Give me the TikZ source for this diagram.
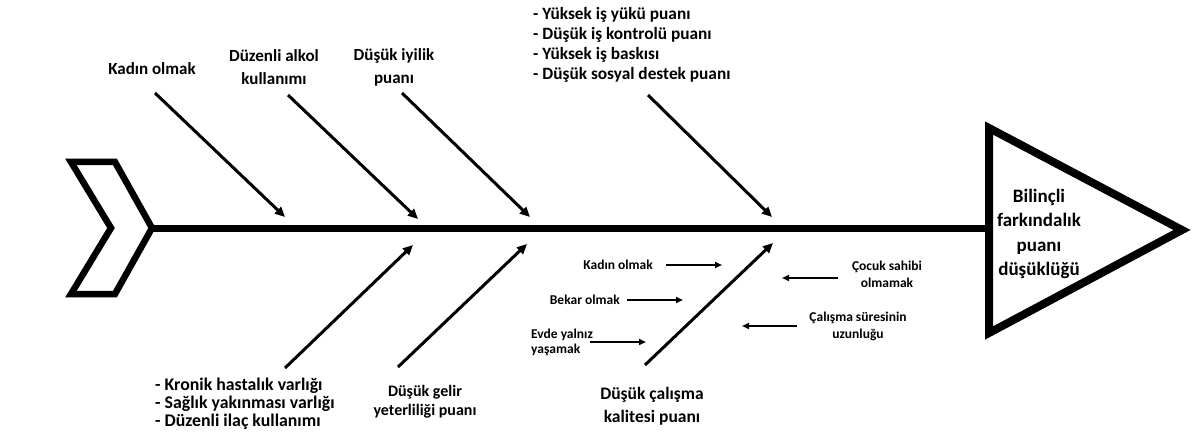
\documentclass[tikz,border=0pt]{standalone}
\usepackage{fontspec}
\setmainfont{Carlito}
\usetikzlibrary{arrows.meta}
\begin{document}
\begin{tikzpicture}[x=1pt,y=-1pt,
  lbl/.style={font=\bfseries\fontsize{17}{23}\selectfont, align=center, inner sep=0pt},
  sml/.style={font=\bfseries\fontsize{13.5}{17}\selectfont, align=center, inner sep=0pt},
  bone/.style={line width=3pt, -{Triangle[length=10pt,width=9pt]}},
  twig/.style={line width=1.8pt, -{Triangle[length=7pt,width=6pt]}},
  frame/.style={line width=7pt, miter limit=10, line join=miter}]
\useasboundingbox (0,0) rectangle (1197,441);

% tail chevron
\draw[frame, line width=6.5pt] (71,162) -- (115,162) -- (152,228) -- (115,294) -- (71,294) -- (111,228) -- cycle;
\coordinate (tail) at (152,228);

% head triangle
\draw[frame, line width=8pt] (989,128) -- (1182,230) -- (989,333) -- cycle;
\coordinate (headw) at (989,228);
\node[font=\bfseries\fontsize{19}{24.3}\selectfont, align=center, inner sep=0pt] (head) at (1039,234) {Bilinçli\\farkındalık\\puanı\\düşüklüğü};

% spine
\draw[line width=7pt] (tail) -- (headw);

% top labels
\node[lbl] (t1) at (152,69) {Kadın olmak};
\node[lbl] (t2) at (274,67) {Düzenli alkol\\kullanımı};
\node[lbl] (t3) at (394,67) {Düşük iyilik\\puanı};
\node[lbl, align=left, anchor=west, font=\bfseries\fontsize{17.3}{20}\selectfont] (t4) at (533,45)
  {- Yüksek iş yükü puanı\\- Düşük iş kontrolü puanı\\- Yüksek iş baskısı\\- Düşük sosyal destek puanı};

\coordinate (t1s) at (155,93);  \coordinate (t1e) at (285,217);
\coordinate (t2s) at (288,95);  \coordinate (t2e) at (418,219);
\coordinate (t3s) at (402,93);  \coordinate (t3e) at (530,217);
\coordinate (t4s) at (648,95);  \coordinate (t4e) at (772,217);
\draw[bone] (t1s) -- (t1e);
\draw[bone] (t2s) -- (t2e);
\draw[bone] (t3s) -- (t3e);
\draw[bone] (t4s) -- (t4e);

% bottom labels
\node[lbl, align=left, anchor=west, font=\bfseries\fontsize{17.8}{18}\selectfont] (b1) at (155,404)
  {- Kronik hastalık varlığı\\- Sağlık yakınması varlığı\\- Düzenli ilaç kullanımı};
\node[lbl, font=\bfseries\fontsize{16}{19}\selectfont] (b2) at (425,402) {Düşük gelir\\yeterliliği puanı};
\node[lbl, font=\bfseries\fontsize{17.5}{23}\selectfont] (b3) at (652,406) {Düşük çalışma\\kalitesi puanı};

\coordinate (b1s) at (285,368); \coordinate (b1e) at (413,245);
\coordinate (b2s) at (398,367); \coordinate (b2e) at (527,244);
\coordinate (b3s) at (645,365); \coordinate (b3e) at (773,243);
\draw[bone] (b1s) -- (b1e);
\draw[bone] (b2s) -- (b2e);
\draw[bone] (b3s) -- (b3e);

% small causes
\node[sml, anchor=east] (s1) at (653,265) {Kadın olmak};
\node[sml, anchor=east] (s2) at (620,300) {Bekar olmak};
\node[sml, align=left, anchor=west, font=\bfseries\fontsize{13.5}{15}\selectfont] (s3) at (531,342) {Evde yalnız\\yaşamak};
\node[sml] (s4) at (887,274) {Çocuk sahibi\\olmamak};
\node[sml] (s5) at (858,326) {Çalışma süresinin\\uzunluğu};

\coordinate (s1s) at (666,265); \coordinate (s1e) at (722,265);
\coordinate (s2s) at (627,300); \coordinate (s2e) at (683,300);
\coordinate (s3s) at (590,342); \coordinate (s3e) at (646,342);
\coordinate (s4s) at (838,278); \coordinate (s4e) at (782,278);
\coordinate (s5s) at (797,326); \coordinate (s5e) at (742,326);
\draw[twig] (s1s) -- (s1e);
\draw[twig] (s2s) -- (s2e);
\draw[twig] (s3s) -- (s3e);
\draw[twig] (s4s) -- (s4e);
\draw[twig] (s5s) -- (s5e);
\end{tikzpicture}
\end{document}
